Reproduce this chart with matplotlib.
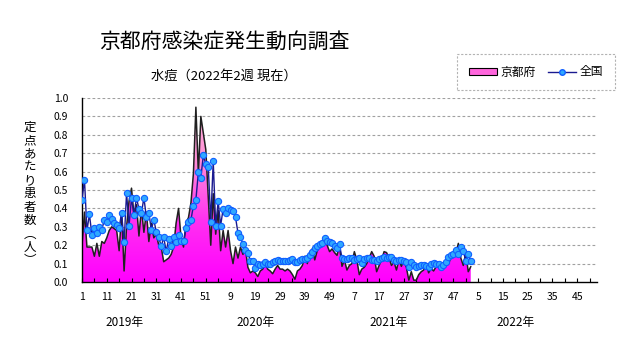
import matplotlib
matplotlib.use("Agg")
import matplotlib.pyplot as plt
import numpy as np
from matplotlib.colors import LinearSegmentedColormap
from matplotlib.patches import Patch
from matplotlib.lines import Line2D

plt.rcParams['font.family'] = ['Noto Sans CJK JP', 'DejaVu Sans']

# 京都府 (定点あたり) 2019w1 - 2022w2
kyoto = [
    0.20, 0.38, 0.19, 0.19, 0.19, 0.14, 0.21, 0.14, 0.22, 0.21,
    0.24, 0.28, 0.30, 0.29, 0.28, 0.17, 0.38, 0.06, 0.30, 0.44,
    0.51, 0.36, 0.42, 0.25, 0.40, 0.27, 0.38, 0.22, 0.32, 0.24,
    0.26, 0.20, 0.19, 0.11, 0.12, 0.13, 0.15, 0.19, 0.32, 0.40,
    0.24, 0.19, 0.32, 0.35, 0.43, 0.59, 0.95, 0.59, 0.90, 0.81,
    0.72, 0.46, 0.20, 0.48, 0.26, 0.39, 0.17, 0.28, 0.19, 0.28,
    0.17, 0.10, 0.19, 0.13, 0.19, 0.15, 0.18, 0.08, 0.05, 0.06,
    0.05, 0.03, 0.06, 0.07, 0.10, 0.07, 0.06, 0.045, 0.07, 0.09,
    0.07, 0.07, 0.06, 0.07, 0.06, 0.04, 0.015, 0.06, 0.07, 0.09,
    0.14, 0.10, 0.16, 0.18, 0.12, 0.17, 0.19, 0.22, 0.245, 0.20,
    0.165, 0.18, 0.16, 0.145, 0.20, 0.085, 0.12, 0.065, 0.09, 0.10,
    0.165, 0.12, 0.04, 0.07, 0.08, 0.10, 0.13, 0.165, 0.14, 0.056,
    0.09, 0.12, 0.165, 0.16, 0.13, 0.09, 0.11, 0.065, 0.12, 0.085,
    0.12, 0.08, 0.01, 0.056, 0.01, 0.01, 0.04, 0.056, 0.065, 0.10,
    0.05, 0.074, 0.06, 0.083, 0.09, 0.074, 0.08, 0.09, 0.10, 0.13,
    0.147, 0.156, 0.21, 0.13, 0.09, 0.16, 0.056, 0.083,
]

# 全国
national = [
    0.447, 0.557, 0.28, 0.367, 0.257, 0.294, 0.266, 0.30, 0.283, 0.338,
    0.325, 0.365, 0.341, 0.321, 0.312, 0.294, 0.376, 0.215, 0.484, 0.307,
    0.456, 0.365, 0.456, 0.398, 0.374, 0.458, 0.352, 0.376, 0.283, 0.338,
    0.274, 0.243, 0.193, 0.243, 0.166, 0.234, 0.193, 0.246, 0.215, 0.257,
    0.221, 0.221, 0.294, 0.325, 0.338, 0.414, 0.447, 0.597, 0.567, 0.688,
    0.64, 0.626, 0.327, 0.657, 0.307, 0.438, 0.307, 0.398, 0.374, 0.403,
    0.389, 0.385, 0.352, 0.266, 0.243, 0.206, 0.173, 0.157, 0.115, 0.115,
    0.075, 0.097, 0.093, 0.10, 0.11, 0.097, 0.10, 0.11, 0.115, 0.12,
    0.115, 0.115, 0.115, 0.115, 0.12, 0.124, 0.106, 0.11, 0.12, 0.125,
    0.125, 0.13, 0.147, 0.165, 0.187, 0.196, 0.205, 0.214, 0.237, 0.225,
    0.219, 0.21, 0.196, 0.187, 0.205, 0.129, 0.125, 0.127, 0.129, 0.129,
    0.12, 0.125, 0.129, 0.105, 0.125, 0.129, 0.129, 0.12, 0.118, 0.116,
    0.125, 0.132, 0.138, 0.129, 0.135, 0.138, 0.12, 0.116, 0.118, 0.12,
    0.112, 0.11, 0.08, 0.11, 0.095, 0.08, 0.088, 0.092, 0.092, 0.085,
    0.08, 0.098, 0.105, 0.10, 0.098, 0.08, 0.095, 0.11, 0.134, 0.145,
    0.152, 0.174, 0.152, 0.188, 0.17, 0.114, 0.152, 0.114,
]

tick_labels = ["1", "11", "21", "31", "41", "51", "9", "19", "29", "39", "49",
               "7", "17", "27", "37", "47", "5", "15", "25", "35", "45"]
years = ["2019年", "2020年", "2021年", "2022年"]
year_pos = [17, 70, 124, 175]
n_weeks = 208

x = np.arange(len(kyoto))
kyoto = np.array(kyoto)
national = np.array(national)

fig = plt.figure(figsize=(6.31, 3.47), dpi=100)
ax = fig.add_axes([82 / 631, 1 - 282 / 347, (597 - 82) / 631, (282 - 98) / 347])

# gradient fill for Kyoto
poly = ax.fill_between(x, kyoto, 0, facecolor='none', edgecolor='none')
cmap = LinearSegmentedColormap.from_list('pk', ['#ff00ff', '#ff30f0', '#ff90d8', '#ffb8d8'])
grad = np.linspace(0, 1, 256).reshape(-1, 1)
im = ax.imshow(grad, extent=[0, len(kyoto) - 1, 0, 1], aspect='auto',
               origin='lower', cmap=cmap, zorder=1)
im.set_clip_path(poly.get_paths()[0], transform=ax.transData)
ax.plot(x, kyoto, color='#202020', lw=1.1, zorder=2)

ax.plot(x, national, color='#1a1a90', lw=1.0, marker='o', markersize=4.5,
        markerfacecolor='#2fa8ff', markeredgecolor='#1060ff', markeredgewidth=0.8,
        zorder=3)

ax.set_xlim(0, n_weeks)
ax.set_ylim(0, 1.0)

for v in np.arange(0.1, 1.01, 0.1):
    ax.axhline(v, color='#a0a0a0', lw=0.8, ls=(0, (2.5, 2)), zorder=0)

ax.set_yticks(np.arange(0, 1.01, 0.1))
ax.set_yticklabels([f"{v:.1f}" for v in np.arange(0, 1.01, 0.1)], fontsize=7.5)
ax.tick_params(axis='y', length=0, pad=10)

ax.set_xticks(np.arange(0, 201, 10))
ax.set_xticklabels(tick_labels, fontsize=7.5)
ax.set_xticks(np.arange(0, n_weeks + 1, 5), minor=True)
ax.tick_params(axis='x', which='both', direction='in', length=3, pad=7, width=0.8)

for s in ['top', 'right']:
    ax.spines[s].set_visible(False)
ax.spines['left'].set_linewidth(1.0)
ax.spines['bottom'].set_linewidth(1.0)

for yl, xp in zip(years, year_pos):
    ax.text(xp, -0.22, yl, transform=ax.get_xaxis_transform(), ha='center',
            va='center', fontsize=8.5)

fig.text(224 / 631, 1 - 42 / 347, "京都府感染症発生動向調査", ha='center',
         va='center', fontsize=15)
fig.text(224 / 631, 1 - 76 / 347, "水痘（2022年2週 現在）", ha='center',
         va='center', fontsize=9.5)

fig.text(30 / 631, 1 - 194 / 347, "\n".join("定点あたり患者数︵人︶"), ha='center',
         va='center', fontsize=9, linespacing=1.03)

handles = [Patch(facecolor='#ff66dd', edgecolor='black', linewidth=0.8),
           Line2D([], [], color='#1a1a90', lw=1.0, marker='o', markersize=4,
                  markerfacecolor='#2fa8ff', markeredgecolor='#1060ff')]
leg = fig.legend(handles, ["京都府", "全国"], loc='center', ncol=2,
                 bbox_to_anchor=(536 / 631, 1 - 72 / 347), fontsize=8.5,
                 frameon=True, fancybox=False, handlelength=2.4, handleheight=0.5,
                 columnspacing=1.0, handletextpad=0.3, borderpad=1.0)
leg.get_frame().set_edgecolor('#a0a0a0')
leg.get_frame().set_linestyle((0, (2, 1.5)))
leg.get_frame().set_linewidth(0.8)

fig.savefig("out.png", dpi=100)
